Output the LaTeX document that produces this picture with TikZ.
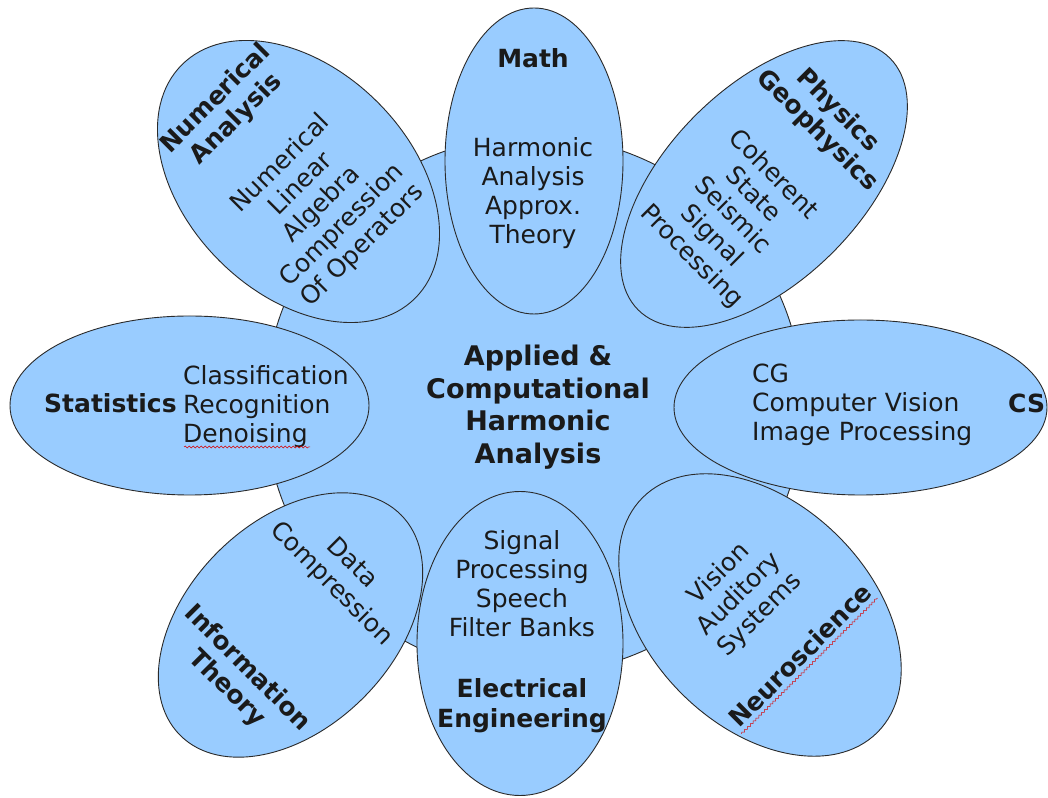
\documentclass[tikz,border=0pt]{standalone}
\usepackage{fontspec}
\setmainfont{DejaVu Sans}
\usetikzlibrary{decorations.pathmorphing}
\definecolor{petalblue}{HTML}{99CCFF}
\definecolor{edgecol}{HTML}{2A2A2A}
\definecolor{txt}{HTML}{1A1A1A}
\begin{document}
\begin{tikzpicture}[x=1pt,y=1pt,
  petal/.style={draw=edgecol, fill=petalblue, line width=0.9pt},
  reg/.style={font=\fontsize{25}{29}\selectfont, inner sep=0pt, text=txt},
  bld/.style={font=\fontsize{25}{29}\selectfont\bfseries, inner sep=0pt, text=txt},
  ctr/.style={text width=400pt, align=center, anchor=base},
  lft/.style={text width=400pt, align=left, anchor=base west},
  squig/.style={draw=red!85!black, line width=0.5pt, decorate,
    decoration={snake, amplitude=1pt, segment length=4pt}}
]
\useasboundingbox (0,0) rectangle (1048,797);
\fill[white] (0,0) rectangle (1048,797);
% central disc
\draw[petal] (534,392) circle (269);
% straight petals
\draw[petal] (534,636) ellipse (89 and 153);
\draw[petal] (520,153.5) ellipse (103 and 152);
\draw[petal] (189.5,391.5) ellipse (179.5 and 89.5);
\draw[petal] (860.5,389.5) ellipse (186.5 and 87.5);
% tilted petals
\begin{scope}[shift={(298.5,615.5)}, rotate=45, transform shape]
  \draw[petal] (0,0) ellipse (112 and 165);
  \node[bld, ctr] (nat) at (0,110) {Numerical\\Analysis};
  \node[reg, ctr] (nab) at (0,18) {Numerical\\Linear\\Algebra\\Compression\\Of Operators};
\end{scope}
\begin{scope}[shift={(764,613)}, rotate=-45, transform shape]
  \draw[petal] (0,0) ellipse (97 and 178);
  \node[bld, ctr] (pht) at (0,97) {Physics\\Geophysics};
  \node[reg, ctr] (phb) at (0,6) {Coherent\\State\\Seismic\\Signal\\Processing};
\end{scope}
\begin{scope}[shift={(290.5,172)}, rotate=-45, transform shape]
  \draw[petal] (0,0) ellipse (103 and 156);
  \node[reg, ctr] (itb) at (0,80) {Data\\Compression};
  \node[bld, ctr] (itt) at (0,-68) {Information\\Theory};
\end{scope}
\begin{scope}[shift={(760,182)}, rotate=45, transform shape]
  \draw[petal] (0,0) ellipse (111 and 166);
  \node[reg, ctr] (nsb) at (0,51) {Vision\\Auditory\\Systems};
  \node[bld, ctr] (nst) at (0,-66) {Neuroscience};
  \draw[squig] (-97,-71) -- (95,-71);
\end{scope}
% centre text
\node[font=\fontsize{27}{32.5}\selectfont\bfseries, inner sep=0pt, text=txt, ctr] (core) at (538,431)
  {Applied \&\\Computational\\Harmonic\\Analysis};
% Math
\node[bld, ctr] (mt) at (533,729) {Math};
\node[reg, ctr] (mb) at (533,640) {Harmonic\\Analysis\\Approx.\\Theory};
% Electrical Engineering
\node[reg, ctr] (eb) at (522,247) {Signal\\Processing\\Speech\\Filter Banks};
\node[bld, ctr] (et) at (522,99) {Electrical\\Engineering};
% Statistics
\node[bld, anchor=base west] (st) at (44,384) {Statistics};
\node[reg, lft] (stb) at (183,412) {Classification\\Recognition\\Denoising};
\draw[squig] (184,350) -- (310,350);
% CS
\node[reg, lft] (csb) at (752,414) {CG\\Computer Vision\\Image Processing};
\node[bld, anchor=base west] (cs) at (1008,384) {CS};
\end{tikzpicture}
\end{document}
